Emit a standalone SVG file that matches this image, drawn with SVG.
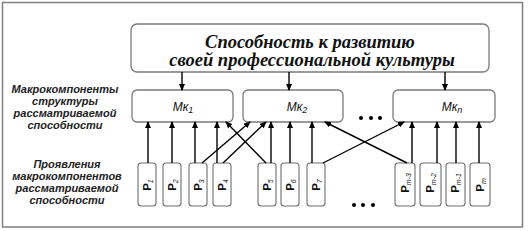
<svg xmlns="http://www.w3.org/2000/svg" width="528" height="231" viewBox="0 0 528 231">
<style>
.box{fill:#fff;stroke:#7a7a7a;stroke-width:1.3}
.pbox{fill:#fff;stroke:#6e6e6e;stroke-width:1.1}
.title{font-family:"Liberation Serif",serif;font-style:italic;font-weight:bold;font-size:18.5px;fill:#111;text-anchor:middle}
.lbl{font-family:"Liberation Sans",Arial,sans-serif;font-style:italic;font-weight:bold;font-size:11px;fill:#222;text-anchor:middle}
.mk{font-family:"Liberation Sans",Arial,sans-serif;font-style:italic;font-size:12px;fill:#111;text-anchor:middle}
.p{font-family:"Liberation Sans",Arial,sans-serif;font-weight:bold;font-size:11.5px;fill:#111;text-anchor:middle}
.sub{font-size:7px;font-style:italic;font-weight:normal}
.con line{stroke:#000;stroke-width:1.4;marker-end:url(#ah)}
.dot{fill:#000}
</style>
<defs>
<marker id="ah" markerUnits="userSpaceOnUse" markerWidth="7" markerHeight="6" refX="6" refY="3" orient="auto">
<path d="M0,0 L7,3 L0,6 z" fill="#000"/>
</marker>
</defs>
<rect x="2.5" y="2.5" width="520" height="224.5" fill="#fff" stroke="#808080" stroke-width="1.5"/>

<g id="top">
<rect class="box" x="131" y="24" width="358" height="48" rx="6"/>
<text class="title" x="310" y="48">Способность к развитию</text>
<text class="title" x="312" y="66">своей профессиональной культуры</text>
</g>

<g id="label-macro">
<text class="lbl" x="65" y="93">Макрокомпоненты</text>
<text class="lbl" x="65" y="105">структуры</text>
<text class="lbl" x="65" y="117">рассматриваемой</text>
<text class="lbl" x="65" y="129">способности</text>
</g>
<g id="label-manifest">
<text class="lbl" x="67" y="168">Проявления</text>
<text class="lbl" x="67" y="180">макрокомпонентов</text>
<text class="lbl" x="67" y="192">рассматриваемой</text>
<text class="lbl" x="67" y="204">способности</text>
</g>

<g id="mk1"><rect class="box" x="132" y="90" width="101" height="32" rx="5"/><text class="mk" x="183" y="111">Мк<tspan font-size="9" dy="2">1</tspan></text></g>
<g id="mk2"><rect class="box" x="243" y="90" width="100" height="32" rx="5"/><text class="mk" x="297" y="111">Мк<tspan font-size="9" dy="2">2</tspan></text></g>
<g id="mkn"><rect class="box" x="393" y="90" width="102" height="32" rx="5"/><text class="mk" x="452" y="111">Мк<tspan font-size="9" dy="2">n</tspan></text></g>

<g id="dots-top"><circle class="dot" cx="361" cy="118" r="2"/><circle class="dot" cx="371" cy="118" r="2"/><circle class="dot" cx="380" cy="118" r="2"/></g>
<g id="dots-bottom"><circle class="dot" cx="354" cy="205" r="2"/><circle class="dot" cx="363" cy="205" r="2"/><circle class="dot" cx="373" cy="205" r="2"/></g>

<g id="p1"><rect class="pbox" x="138" y="163" width="18" height="43" rx="3"/><text class="p" transform="translate(151,185) rotate(-90)">P<tspan class="sub" dy="2">1</tspan></text></g>
<g id="p2"><rect class="pbox" x="163" y="163" width="18" height="43" rx="3"/><text class="p" transform="translate(176,185) rotate(-90)">P<tspan class="sub" dy="2">2</tspan></text></g>
<g id="p3"><rect class="pbox" x="189" y="163" width="18" height="43" rx="3"/><text class="p" transform="translate(202,185) rotate(-90)">P<tspan class="sub" dy="2">3</tspan></text></g>
<g id="p4"><rect class="pbox" x="213" y="163" width="18" height="43" rx="3"/><text class="p" transform="translate(226,185) rotate(-90)">P<tspan class="sub" dy="2">4</tspan></text></g>
<g id="p5"><rect class="pbox" x="258" y="163" width="18" height="43" rx="3"/><text class="p" transform="translate(271,185) rotate(-90)">P<tspan class="sub" dy="2">5</tspan></text></g>
<g id="p6"><rect class="pbox" x="281" y="163" width="18" height="43" rx="3"/><text class="p" transform="translate(294,185) rotate(-90)">P<tspan class="sub" dy="2">6</tspan></text></g>
<g id="p7"><rect class="pbox" x="307" y="163" width="18" height="43" rx="3"/><text class="p" transform="translate(320,185) rotate(-90)">P<tspan class="sub" dy="2">7</tspan></text></g>
<g id="pm3"><rect class="pbox" x="395" y="163" width="20" height="43" rx="3"/><text class="p" transform="translate(409,183) rotate(-90)">P<tspan class="sub" font-size="8" dy="2">m-3</tspan></text></g>
<g id="pm2"><rect class="pbox" x="420" y="163" width="21" height="43" rx="3"/><text class="p" transform="translate(434,183) rotate(-90)">P<tspan class="sub" font-size="8" dy="2">m-2</tspan></text></g>
<g id="pm1"><rect class="pbox" x="446" y="163" width="19" height="43" rx="3"/><text class="p" transform="translate(459,183) rotate(-90)">P<tspan class="sub" font-size="8" dy="2">m-1</tspan></text></g>
<g id="pm"><rect class="pbox" x="470" y="163" width="20" height="43" rx="3"/><text class="p" transform="translate(484,185) rotate(-90)">P<tspan class="sub" font-size="8" dy="2">m</tspan></text></g>

<g id="connectors" class="con">
<line x1="182" y1="72" x2="182" y2="90"/>
<line x1="289" y1="72" x2="289" y2="90"/>
<line x1="445" y1="72" x2="445" y2="90"/>
<line x1="148" y1="163" x2="148" y2="122"/>
<line x1="172" y1="163" x2="172" y2="122"/>
<line x1="195" y1="163" x2="195" y2="122"/>
<line x1="217" y1="163" x2="217" y2="122"/>
<line x1="202" y1="163" x2="250" y2="122"/>
<line x1="223" y1="163" x2="266" y2="122"/>
<line x1="266" y1="163" x2="226" y2="122"/>
<line x1="271" y1="163" x2="271" y2="122"/>
<line x1="290" y1="163" x2="290" y2="122"/>
<line x1="312" y1="163" x2="312" y2="122"/>
<line x1="323" y1="163" x2="404" y2="122"/>
<line x1="407" y1="163" x2="325" y2="122"/>
<line x1="412" y1="163" x2="412" y2="122"/>
<line x1="437" y1="163" x2="437" y2="122"/>
<line x1="456" y1="163" x2="456" y2="122"/>
<line x1="479" y1="163" x2="479" y2="122"/>
</g>
</svg>
